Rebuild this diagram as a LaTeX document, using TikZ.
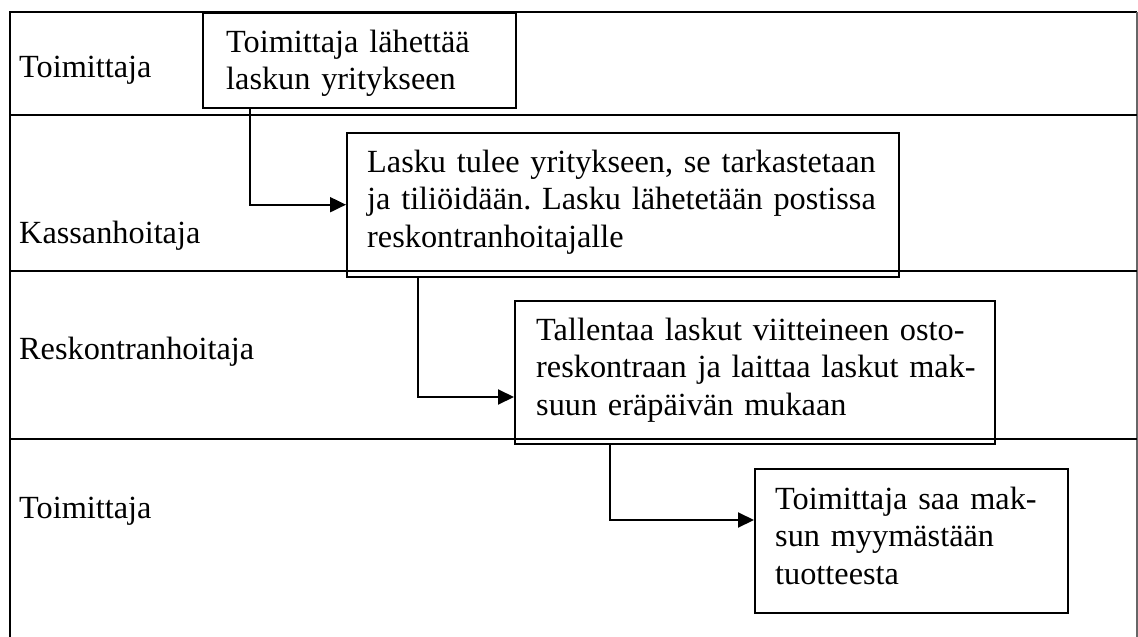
\documentclass[tikz,border=0pt]{standalone}
\usepackage{fontspec}
\setmainfont{Liberation Serif}
\usetikzlibrary{arrows.meta}
\frenchspacing
\begin{document}
\begin{tikzpicture}[x=1pt,y=-1pt,
  every node/.style={font=\fontsize{32.3pt}{37.5pt}\selectfont},
  lane/.style={line width=2.2pt},
  stepbox/.style={draw, line width=2pt, rectangle, inner sep=0pt, anchor=north west},
  boxtext/.style={anchor=base west, inner sep=0pt, text width=#1, align=left},
  lbl/.style={anchor=base west, inner sep=0pt},
  flow/.style={line width=2pt, -{Triangle[length=16pt,width=15pt]}}]
\useasboundingbox (0,0) rectangle (1138,637);

% swimlane frame and lane separators
\draw[lane] (10,637) -- (10,12) -- (1137,12);
\draw[line width=1.4pt, black!60] (1137,12) -- (1137,637);
\draw[lane] (10,115) -- (1137,115);
\draw[lane] (10,271) -- (1137,271);
\draw[lane] (10,439) -- (1137,439);

% lane labels
\node[lbl] (l1) at (19,77)  {Toimittaja};
\node[lbl] (l2) at (19,243) {Kassanhoitaja};
\node[lbl] (l3) at (19,359) {Reskontranhoitaja};
\node[lbl] (l4) at (19,518) {Toimittaja};

% process steps
\node[stepbox, minimum width=312.6pt, minimum height=95pt]  (b1) at (202,12)    {};
\node[stepbox, minimum width=552pt,   minimum height=144pt] (b2) at (346,131.7) {};
\node[stepbox, minimum width=480pt,   minimum height=143pt] (b3) at (514,300)   {};
\node[stepbox, minimum width=313pt,   minimum height=144pt] (b4) at (754,468)   {};

\node[boxtext=290pt] (t1) at (226,52)  {Toimittaja lähettää\\laskun yritykseen};
\node[boxtext=530pt] (t2) at (367,172) {Lasku tulee yritykseen, se tarkastetaan\\ja tiliöidään. Lasku lähetetään postissa\\reskontranhoitajalle};
\node[boxtext=460pt] (t3) at (536,340) {Tallentaa laskut viitteineen osto-\\reskontraan ja laittaa laskut mak-\\suun eräpäivän mukaan};
\node[boxtext=290pt] (t4) at (775,509) {Toimittaja saa mak-\\sun myymästään\\tuotteesta};

% flow between steps
\draw[flow] ([xshift=48pt]b1.south west) |- (b2.west);
\draw[flow] ([xshift=72pt]b2.south west) |- ([yshift=-24.5pt]b3.west);
\draw[flow] ([xshift=96pt]b3.south west) |- ([yshift=21pt]b4.west);
\end{tikzpicture}
\end{document}
